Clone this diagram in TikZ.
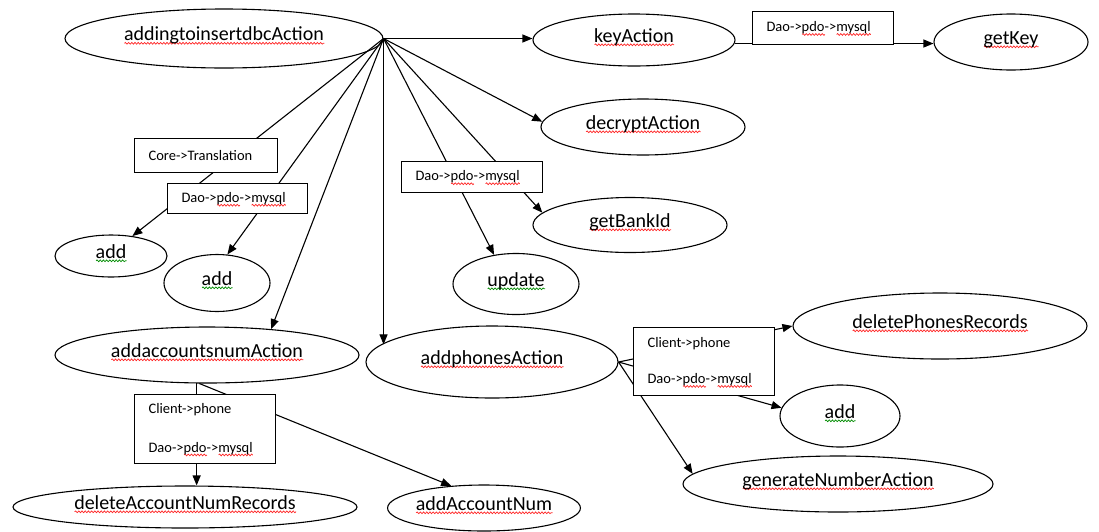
\documentclass[tikz,border=0pt]{standalone}
\usepackage{fontspec}
\setmainfont{Carlito}
\usetikzlibrary{arrows.meta,shapes.geometric,decorations.pathmorphing}

% spell-check style wavy underlines
\newcommand\squig[2]{\setbox0\hbox{#2}\rlap{\smash{\tikz[baseline=0pt,x=1pt,y=1pt]
  \draw[draw=#1,fill=none,line width=0.7pt,decorate,
    decoration={snake,amplitude=0.9pt,segment length=3.2pt}] (0,-2.8) -- (\the\wd0,-2.8);}}\box0}
\newcommand\redsq[1]{\squig{red!85!white}{#1}}
\newcommand\greensq[1]{\squig{green!55!black}{#1}}

\begin{document}
\begin{tikzpicture}[x=1pt,y=-1pt,
  oval/.style={draw=black, line width=1.1pt, fill=white, ellipse, inner sep=0pt,
    font=\fontsize{20}{24}\selectfont, text height=12pt, text depth=8pt},
  tag/.style={draw=black, line width=1.1pt, fill=white, rectangle, anchor=north west,
    inner xsep=14pt, inner ysep=0pt, align=left, font=\fontsize{14.5}{17.4}\selectfont},
  link/.style={line width=1.1pt},
  arrow/.style={link, -{Triangle[length=10pt,width=8pt]}}]

\useasboundingbox (0,0) rectangle (1099,531);
\fill[white] (0,0) rectangle (1099,531);

% call targets
\node[oval, minimum width=318pt, minimum height=59pt] (main) at (224,38.5) {\redsq{addingtoinsertdbcAction}};
\node[oval, minimum width=202pt, minimum height=52pt] (keyAct) at (634,40) {\redsq{keyAction}};
\node[oval, minimum width=154pt, minimum height=56pt] (getKey) at (1011,42) {\redsq{getKey}};
\node[oval, minimum width=204pt, minimum height=56pt] (decrypt) at (643,127) {\redsq{decryptAction}};
\node[oval, minimum width=194pt, minimum height=55pt] (bank) at (630,225) {\redsq{getBankId}};
\node[oval, minimum width=126pt, minimum height=61pt] (update) at (516,284) {\greensq{update}};
\node[oval, minimum width=112pt, minimum height=42pt] (add1) at (111,256) {\greensq{add}};
\node[oval, minimum width=106pt, minimum height=57pt] (add2) at (217,283) {\greensq{add}};
\node[oval, minimum width=304pt, minimum height=56pt] (accts) at (207,355) {\redsq{addaccountsnumAction}};
\node[oval, minimum width=252pt, minimum height=72pt] (phones) at (492,362) {\redsq{addphonesAction}};
\node[oval, minimum width=294pt, minimum height=66pt] (delPhones) at (940,326) {\redsq{deletePhonesRecords}};
\node[oval, minimum width=120pt, minimum height=62pt] (add3) at (840,416) {\greensq{add}};
\node[oval, minimum width=310pt, minimum height=56pt] (genNum) at (838,484) {\redsq{generateNumberAction}};
\node[oval, minimum width=344pt, minimum height=42pt] (delAcc) at (185,507) {\redsq{deleteAccountNumRecords}};
\node[oval, minimum width=182pt, minimum height=46pt] (addAccNum) at (484,508) {\redsq{addAccountNum}};

% connectors fanning out of addingtoinsertdbcAction
\coordinate (hub) at (main.east);
\draw[arrow] (hub) -- (hub -| keyAct.west);
\draw[arrow] (keyAct.-2) -- (keyAct.-2 -| getKey.west);
\draw[arrow] (hub) -- (decrypt.177);
\draw[arrow] (hub) -- (bank.172);
\draw[arrow] (hub) -- (update.127);
\draw[arrow] (hub) -- (add1.43);
\draw[arrow] (hub) -- (add2.70);
\draw[arrow] (hub) -- (accts.22);
\draw[arrow] (hub) -- (hub |- phones.171);

% connectors out of addphonesAction
\coordinate (ph) at (phones.east);
\draw[arrow] (ph) -- (delPhones.west);
\draw[arrow] (ph) -- (add3.172);
\draw[arrow] (ph) -- (genNum.176);

% connectors out of addaccountsnumAction
\draw[arrow] (accts.250) -- (accts.250 |- delAcc.north);
\draw[arrow] (accts.255) -- (addAccNum.146);

% labels lying on the connectors
\node[tag, minimum height=32.5pt, text width=113pt] (tagKey) at (752,11) {Dao->\redsq{pdo}->\redsq{mysql}};
\node[tag, minimum height=34pt, text width=115pt] (tagCore) at (134,138) {Core->Translation};
\node[tag, minimum height=30pt, text width=112pt] (tagDaoL) at (167,183) {Dao->\redsq{pdo}->\redsq{mysql}};
\node[tag, minimum height=31pt, text width=113pt] (tagDaoM) at (401,161) {Dao->\redsq{pdo}->\redsq{mysql}};
\node[tag, minimum height=68pt, text width=113pt] (tagPh) at (633,327) {Client->phone\\[19pt]Dao->\redsq{pdo}->\redsq{mysql}};
\node[tag, minimum height=69pt, text width=113pt] (tagAcc) at (134,394) {Client->phone\\[21pt]Dao->\redsq{pdo}->\redsq{mysql}};
\end{tikzpicture}
\end{document}
